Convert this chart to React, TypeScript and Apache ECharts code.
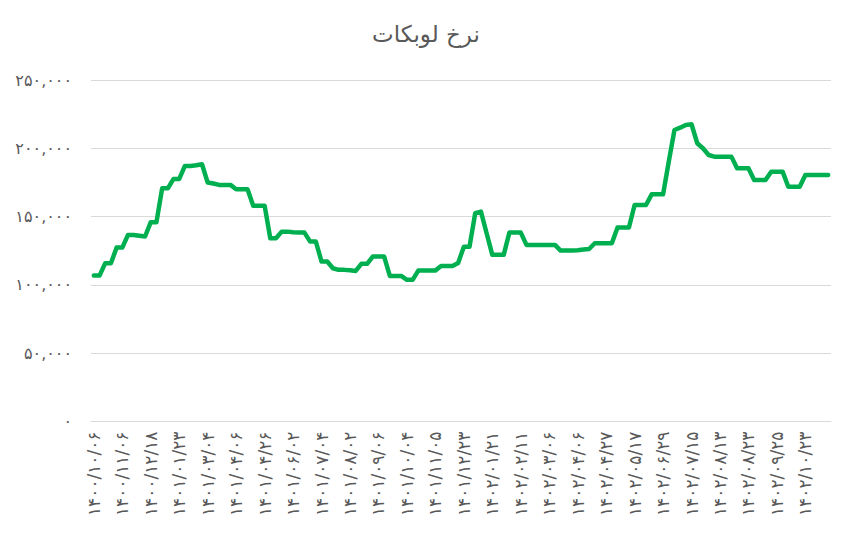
import React, { useEffect, useRef } from "react";
import * as echarts from "echarts";

const chartTitle = "نرخ لوبکات";

// every 5th category label
const tickLabels = [
  "۱۴۰۰/۱۰/۰۶", "۱۴۰۰/۱۱/۰۶", "۱۴۰۰/۱۲/۱۸", "۱۴۰۱/۰۱/۲۳", "۱۴۰۱/۰۳/۰۴",
  "۱۴۰۱/۰۴/۰۶", "۱۴۰۱/۰۴/۲۶", "۱۴۰۱/۰۶/۰۲", "۱۴۰۱/۰۷/۰۴", "۱۴۰۱/۰۸/۰۲",
  "۱۴۰۱/۰۹/۰۶", "۱۴۰۱/۱۰/۰۴", "۱۴۰۱/۱۱/۰۵", "۱۴۰۱/۱۲/۲۳", "۱۴۰۲/۰۱/۲۱",
  "۱۴۰۲/۰۲/۱۱", "۱۴۰۲/۰۳/۰۶", "۱۴۰۲/۰۴/۰۶", "۱۴۰۲/۰۴/۲۷", "۱۴۰۲/۰۵/۱۷",
  "۱۴۰۲/۰۶/۲۹", "۱۴۰۲/۰۷/۱۵", "۱۴۰۲/۰۸/۱۳", "۱۴۰۲/۰۸/۲۳", "۱۴۰۲/۰۹/۲۵",
  "۱۴۰۲/۱۰/۲۳",
];
const labelStep = 5;

// price values (thousands)
const pricesK = [
  106.8, 106.8, 115.9, 115.9, 127.3, 127.3, 136.6, 136.6, 136.0, 135.4,
  145.9, 145.9, 170.7, 170.7, 177.6, 177.6, 187.1, 187.1, 187.6, 188.3,
  174.9, 174.2, 173.2, 173.2, 173.2, 170.0, 170.0, 170.0, 158.0, 158.0,
  158.0, 134.1, 134.1, 139.0, 139.0, 138.5, 138.3, 138.3, 131.7, 131.7,
  117.1, 117.1, 112.2, 111.0, 111.0, 110.7, 110.2, 115.4, 115.4, 120.7,
  120.7, 120.7, 106.6, 106.6, 106.6, 103.7, 103.7, 110.5, 110.5, 110.5,
  110.5, 113.9, 113.9, 113.9, 116.1, 128.0, 128.0, 152.5, 153.7, 137.8,
  122.0, 122.0, 122.0, 138.3, 138.3, 138.3, 129.3, 129.3, 129.3, 129.3,
  129.3, 129.3, 125.1, 125.1, 125.1, 125.4, 125.9, 126.3, 130.5, 130.5,
  130.5, 130.5, 142.0, 142.0, 142.0, 158.5, 158.5, 158.5, 166.3, 166.3,
  166.3, 190.2, 213.4, 215.1, 217.1, 217.6, 203.7, 200.0, 195.1, 193.9,
  193.9, 193.9, 193.9, 185.4, 185.4, 185.4, 176.8, 176.8, 176.8, 182.9,
  182.9, 182.9, 171.9, 171.9, 171.9, 180.5, 180.5, 180.5, 180.5, 180.5,
];

const yMax = 250000;
const yStep = 50000;

const faDigits = "۰۱۲۳۴۵۶۷۸۹";
const toFa = (s: string) => s.replace(/\d/g, (d) => faDigits[+d]);
const fmt = (v: number) => toFa(v.toLocaleString("en-US"));

export default function App() {
  const ref = useRef<HTMLDivElement>(null);
  useEffect(() => {
    if (!ref.current) return;
    const chart = echarts.init(ref.current, null, { renderer: "svg" });
    const values = pricesK.map((v) => Math.round(v * 1000));
    const categories = values.map((_, i) =>
      i % labelStep === 0 ? tickLabels[i / labelStep] ?? "" : ""
    );
    const font = "'DejaVu Sans', sans-serif";
    chart.setOption({
      animation: false,
      title: {
        text: chartTitle,
        left: "center",
        top: 17,
        textStyle: { color: "#595959", fontSize: 23, fontWeight: "normal", fontFamily: font },
      },
      grid: { left: 91, right: 21, top: 80, bottom: 121.5, containLabel: false },
      xAxis: {
        type: "category",
        data: categories,
        boundaryGap: true,
        axisLine: { show: true, lineStyle: { color: "#D9D9D9", width: 1 } },
        axisTick: { show: false },
        axisLabel: {
          interval: labelStep - 1,
          rotate: 90,
          margin: 10,
          color: "#595959",
          fontSize: 17,
          fontFamily: font,
        },
      },
      yAxis: {
        type: "value",
        min: 0,
        max: yMax,
        interval: yStep,
        axisLine: { show: false },
        axisTick: { show: false },
        splitLine: { lineStyle: { color: "#D9D9D9", width: 1 } },
        axisLabel: {
          margin: 19,
          color: "#595959",
          fontSize: 16,
          fontFamily: font,
          formatter: (v: number) => fmt(v),
        },
      },
      series: [
        {
          type: "line",
          data: values,
          symbol: "none",
          lineStyle: { color: "#00B050", width: 4.5, cap: "round", join: "round" },
        },
      ],
    });
    return () => chart.dispose();
  }, []);
  return (
    <div
      ref={ref}
      style={{ position: "fixed", left: 0, top: 0, width: 852, height: 543, background: "#fff" }}
    />
  );
}
